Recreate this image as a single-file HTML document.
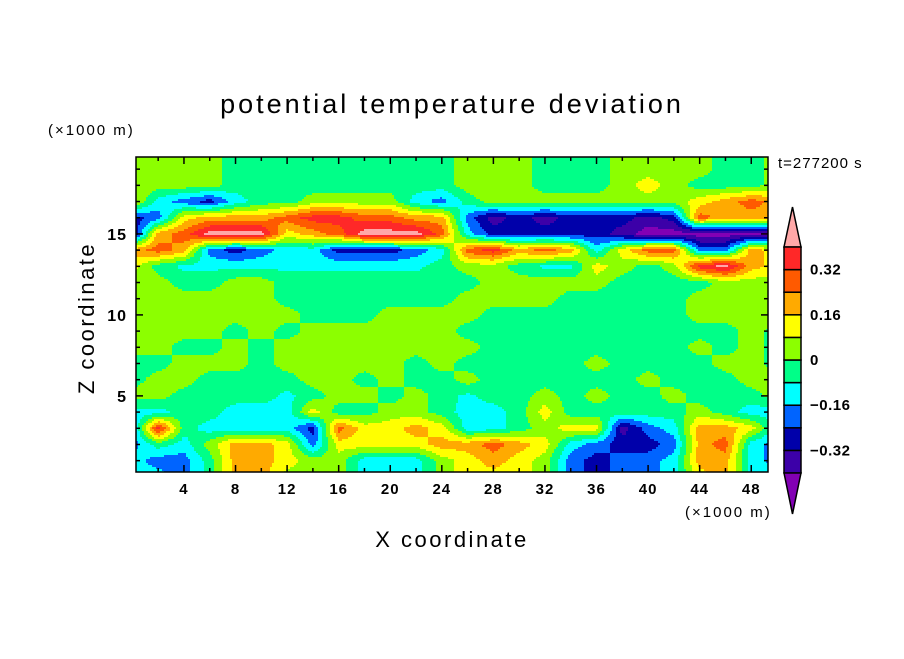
<!DOCTYPE html>
<html><head><meta charset="utf-8"><style>
body{margin:0;background:#fff;}
svg text{font-family:"Liberation Sans",sans-serif;fill:#000;}
</style></head><body>
<svg id="chart" width="904" height="654" viewBox="0 0 904 654" xmlns="http://www.w3.org/2000/svg">
<rect width="904" height="654" fill="#fff"/>
<text x="452" y="113" font-size="27" text-anchor="middle" letter-spacing="3">potential temperature deviation</text>
<text x="48" y="135" font-size="15" letter-spacing="2">(×1000 m)</text>
<text x="778" y="168" font-size="15" letter-spacing="1">t=277200 s</text>
<text x="685" y="517" font-size="15" letter-spacing="2">(×1000 m)</text>
<text x="452" y="547" font-size="22" text-anchor="middle" letter-spacing="2.5">X coordinate</text>
<text x="0" y="0" font-size="22" text-anchor="middle" letter-spacing="2.5" transform="translate(94,318) rotate(-90)">Z coordinate</text>
<g id="field"></g>
<g id="axes"></g>
<g id="cbar"></g>
</svg>
<script>
const xCoords=[0,2,4,6,8,10,12,14,16,18,20,22,24,26,28,30,32,34,36,38,40,42,44,46,48,50];
const zCoords=[20,19,18,17,16,15,14,13,12,11,10,9,8,7,6,5,4,3,2,1,0];
const levelBounds=[-0.4,-0.32,-0.24,-0.16,-0.08,0,0.08,0.16,0.24,0.32,0.4];
const levelColors=["#8200b4","#3c00a8","#0000aa","#0064ff","#00ffff","#00ff88","#8cff00","#ffff00","#ffaa00","#ff5a00","#ff2828","#ffa8a8"];
const cbarLabels=["0.32","0.16","0","\u22120.16","\u22120.32"];
const cbarLabelValues=[0.32,0.16,0,-0.16,-0.32];
const xTickValues=[4,8,12,16,20,24,28,32,36,40,44,48];
const zTickValues=[5,10,15];
const row20=[0.04,0.04,0.04,0.04,-0.04,-0.04,-0.04,-0.04,-0.04,-0.04,-0.04,-0.04,-0.04,0.04,0.04,0.04,-0.04,-0.04,-0.04,0.04,0.04,0.04,0.04,-0.04,-0.04,0.04];
const row19=[0.04,0.04,0.04,0.04,-0.04,-0.04,-0.04,-0.04,-0.04,-0.04,-0.04,-0.04,-0.04,0.04,0.04,0.04,-0.04,-0.04,-0.04,0.04,0.04,0.04,0.04,-0.04,-0.04,0.04];
const row18=[0.04,0.04,0.04,0.04,-0.04,-0.04,-0.04,-0.04,-0.04,-0.04,-0.04,-0.04,-0.04,0.04,0.04,0.04,-0.04,-0.04,-0.04,0.04,0.12,0.04,-0.04,-0.04,-0.04,0.04];
const row17=[0.12,-0.12,-0.2,-0.28,-0.12,-0.04,-0.04,0.04,0.04,0.04,0.04,-0.12,-0.2,-0.04,0.04,0.04,0.04,0.04,0.04,0.04,0.04,0.04,0.12,0.2,0.28,0.2];
const row16=[-0.28,-0.2,0.12,0.2,0.2,0.2,0.28,0.36,0.36,0.28,0.28,0.2,0.2,-0.2,-0.36,-0.28,-0.36,-0.28,-0.28,-0.28,-0.36,-0.28,0.28,0.2,0.2,0.2];
const row15=[-0.36,0.2,0.28,0.44,0.44,0.44,0.12,0.2,0.28,0.44,0.44,0.44,0.28,-0.12,-0.28,-0.28,-0.28,-0.28,-0.28,-0.36,-0.44,-0.44,-0.44,-0.44,-0.44,-0.44];
const row14=[0.2,0.28,0.2,-0.2,-0.28,-0.2,-0.12,-0.12,-0.28,-0.28,-0.28,-0.2,-0.12,0.28,0.36,0.2,0.28,0.2,-0.12,0.12,0.28,0.28,-0.2,-0.2,0.2,0.12];
const row13=[0.12,-0.04,-0.1,-0.1,-0.1,-0.1,-0.1,-0.1,-0.1,-0.1,-0.1,-0.1,-0.04,0.04,0.04,-0.04,-0.1,-0.1,0.12,0.04,-0.04,0.04,0.36,0.44,0.2,0.12];
const row12=[0.04,0.04,-0.04,-0.04,0.04,0.04,-0.04,-0.04,-0.04,-0.04,-0.04,-0.04,-0.04,-0.04,0.04,0.04,0.04,0.04,0.04,-0.04,-0.04,-0.04,-0.04,0.04,0.04,0.04];
const row11=[0.04,0.04,0.04,0.04,0.04,0.04,-0.04,-0.04,-0.04,-0.04,-0.04,-0.04,-0.04,0.04,0.04,0.04,0.04,-0.04,-0.04,-0.04,-0.04,-0.04,0.04,0.04,0.04,0.04];
const row10=[0.04,0.04,0.04,0.04,0.04,0.04,0.04,-0.04,-0.04,-0.04,0.04,0.04,0.04,0.04,-0.04,-0.04,-0.04,-0.04,-0.04,-0.04,-0.04,-0.04,0.04,0.04,0.04,0.04];
const row9=[0.04,0.04,0.04,0.04,-0.04,0.04,-0.04,0.04,0.04,0.04,0.04,0.04,0.04,-0.04,-0.04,-0.04,-0.04,-0.04,-0.04,-0.04,-0.04,-0.04,-0.04,-0.04,0.04,-0.04];
const row8=[0.04,0.04,-0.04,-0.04,0.04,-0.04,0.04,0.04,0.04,0.04,0.04,0.04,0.04,0.04,-0.04,-0.04,-0.04,-0.04,-0.04,-0.04,-0.04,-0.04,0.04,-0.04,0.04,-0.04];
const row7=[-0.04,-0.04,0.04,0.04,0.04,-0.04,0.04,0.04,0.04,0.04,0.04,-0.04,0.04,-0.04,-0.04,-0.04,-0.04,-0.04,0.04,-0.04,-0.04,-0.04,-0.04,0.04,0.04,-0.04];
const row6=[-0.04,0.04,0.04,-0.04,-0.04,-0.04,-0.04,0.04,0.04,-0.04,0.04,-0.04,-0.04,0.04,-0.04,-0.04,-0.04,-0.04,-0.04,-0.04,0.04,-0.04,-0.04,-0.04,0.04,0.04];
const row5=[0.04,0.04,-0.04,-0.04,-0.04,-0.04,-0.1,-0.04,0.04,0.04,-0.04,0.04,-0.04,-0.1,-0.04,-0.04,0.04,-0.04,0.04,-0.04,-0.04,0.04,-0.04,-0.04,-0.04,0.04];
const row4=[-0.12,-0.12,-0.04,-0.04,-0.12,-0.12,-0.12,0.12,-0.04,-0.04,0.04,0.04,-0.04,-0.12,-0.12,-0.04,0.12,-0.04,-0.04,-0.04,-0.04,-0.04,0.04,-0.04,-0.12,-0.12];
const row3=[-0.2,0.36,-0.04,-0.12,-0.12,-0.12,-0.12,-0.28,0.28,0.12,0.12,0.2,0.12,-0.12,-0.12,-0.04,0.04,0.12,0.12,-0.36,-0.2,-0.12,0.2,0.2,0.12,-0.12];
const row2=[-0.2,-0.04,-0.12,0.04,0.2,0.2,0.12,-0.2,0.12,0.12,0.12,0.12,0.2,0.2,0.28,0.2,0.12,-0.12,-0.2,-0.28,-0.28,-0.2,0.2,0.28,-0.12,-0.2];
const row1=[-0.12,-0.2,-0.2,-0.04,0.2,0.2,0.12,0.04,0.04,-0.12,-0.12,-0.12,0.04,0.12,0.2,0.12,0.04,-0.2,-0.28,-0.2,-0.2,-0.12,0.2,0.2,-0.12,-0.2];
const row0=[-0.12,-0.12,-0.2,-0.04,0.2,0.2,0.04,0.04,0.04,-0.12,-0.12,-0.12,0.04,0.12,0.12,0.12,0.04,-0.2,-0.28,-0.2,-0.2,-0.12,0.12,0.2,-0.12,-0.12];
const field=[row20,row19,row18,row17,row16,row15,row14,row13,row12,row11,row10,row9,row8,row7,row6,row5,row4,row3,row2,row1,row0];

const NS="http://www.w3.org/2000/svg";
const PL=136,PR=768,PT=157,PB=472;
const X0=0.28,X1=49.3,Z0=0.3,Z1=19.75;
function sx(x){return PL+(x-X0)/(X1-X0)*(PR-PL);}
function sz(z){return PB-(z-Z0)/(Z1-Z0)*(PB-PT);}
function ix(px){return X0+(px-PL)/(PR-PL)*(X1-X0);}
function iz(py){return Z0+(PB-py)/(PB-PT)*(Z1-Z0);}
function el(tag,attrs,parent){const e=document.createElementNS(NS,tag);for(const k in attrs)e.setAttribute(k,attrs[k]);parent.appendChild(e);return e;}
function levelOf(v){let i=0;while(i<levelBounds.length&&v>=levelBounds[i])i++;return i;}
function sample(x,z){
  const dx=xCoords[1]-xCoords[0];
  let fi=(x-xCoords[0])/dx; fi=Math.max(0,Math.min(xCoords.length-1.0001,fi));
  const zTop=zCoords[0], dz=zCoords[0]-zCoords[1];
  let fj=(zTop-z)/dz; fj=Math.max(0,Math.min(zCoords.length-1.0001,fj));
  const i=Math.floor(fi),j=Math.floor(fj),a=fi-i,b=fj-j;
  return field[j][i]*(1-a)*(1-b)+field[j][i+1]*a*(1-b)+field[j+1][i]*(1-a)*b+field[j+1][i+1]*a*b;
}
const fg=document.getElementById('field');
const step=2;
for(let py=PT;py<PB;py+=step){
  let runStart=PL,runLev=null;
  const h=Math.min(step,PB-py);
  for(let px=PL;px<=PR;px+=step){
    const lev=px<PR?levelOf(sample(ix(px+step/2),iz(py+h/2))):-1;
    if(lev!==runLev){
      if(runLev!==null){
        const r=el('rect',{x:runStart,y:py,width:Math.min(px,PR)-runStart+0.5,height:h+0.5,fill:levelColors[runLev]},fg);
        
        
      }
      runStart=px;runLev=lev;
    }
  }
}
const ax=document.getElementById('axes');
const frame=el('rect',{x:PL,y:PT,width:PR-PL,height:PB-PT,fill:'none',stroke:'#000','stroke-width':1.5},ax);


for(let x=2;x<X1;x+=2){
  const major=x%4===0,L=major?7:4,X=sx(x);
  el('line',{x1:X,y1:PB,x2:X,y2:PB-L,stroke:'#000','stroke-width':1.5},ax);
  el('line',{x1:X,y1:PT,x2:X,y2:PT+L,stroke:'#000','stroke-width':1.5},ax);
}
for(let z=1;z<Z1;z+=1){
  const major=z%5===0,L=major?7:4,Y=sz(z);
  el('line',{x1:PL,y1:Y,x2:PL+L,y2:Y,stroke:'#000','stroke-width':1.5},ax);
  el('line',{x1:PR,y1:Y,x2:PR-L,y2:Y,stroke:'#000','stroke-width':1.5},ax);
}
xTickValues.forEach(v=>{
  const t=el('text',{x:sx(v),y:PB+22,'font-size':15,'font-weight':'bold','letter-spacing':1,'text-anchor':'middle'},ax);
  
  
  t.textContent=v;
});
zTickValues.forEach(v=>{
  const t=el('text',{x:PL-9,y:sz(v)+6,'font-size':16,'font-weight':'bold','letter-spacing':1,'text-anchor':'end'},ax);
  
  
  t.textContent=v;
});
const cb=document.getElementById('cbar');
const CX0=784,CX1=801,CT=247,CBt=473,nBox=levelBounds.length-1,bh=(CBt-CT)/nBox;
function cy(v){return CT+(levelBounds[nBox]-v)/(levelBounds[nBox]-levelBounds[0])*(CBt-CT);}
const cbTop=el('polygon',{points:`${CX0},${CT} ${CX1},${CT} ${(CX0+CX1)/2},207`,fill:levelColors[levelColors.length-1],stroke:'#000','stroke-width':1.5},cb);


for(let k=0;k<nBox;k++){
  const r=el('rect',{x:CX0,y:cy(levelBounds[k+1]),width:CX1-CX0,height:bh,fill:levelColors[k+1],stroke:'#000','stroke-width':1.5},cb);
  
  
}
const cbBot=el('polygon',{points:`${CX0},${CBt} ${CX1},${CBt} ${(CX0+CX1)/2},514`,fill:levelColors[0],stroke:'#000','stroke-width':1.5},cb);


cbarLabels.forEach((s,i)=>{
  const t=el('text',{x:810,y:cy(cbarLabelValues[i])+5,'font-size':15,'font-weight':'bold','letter-spacing':0.5},cb);
  
  
  t.textContent=s;
});
</script>
</body></html>
